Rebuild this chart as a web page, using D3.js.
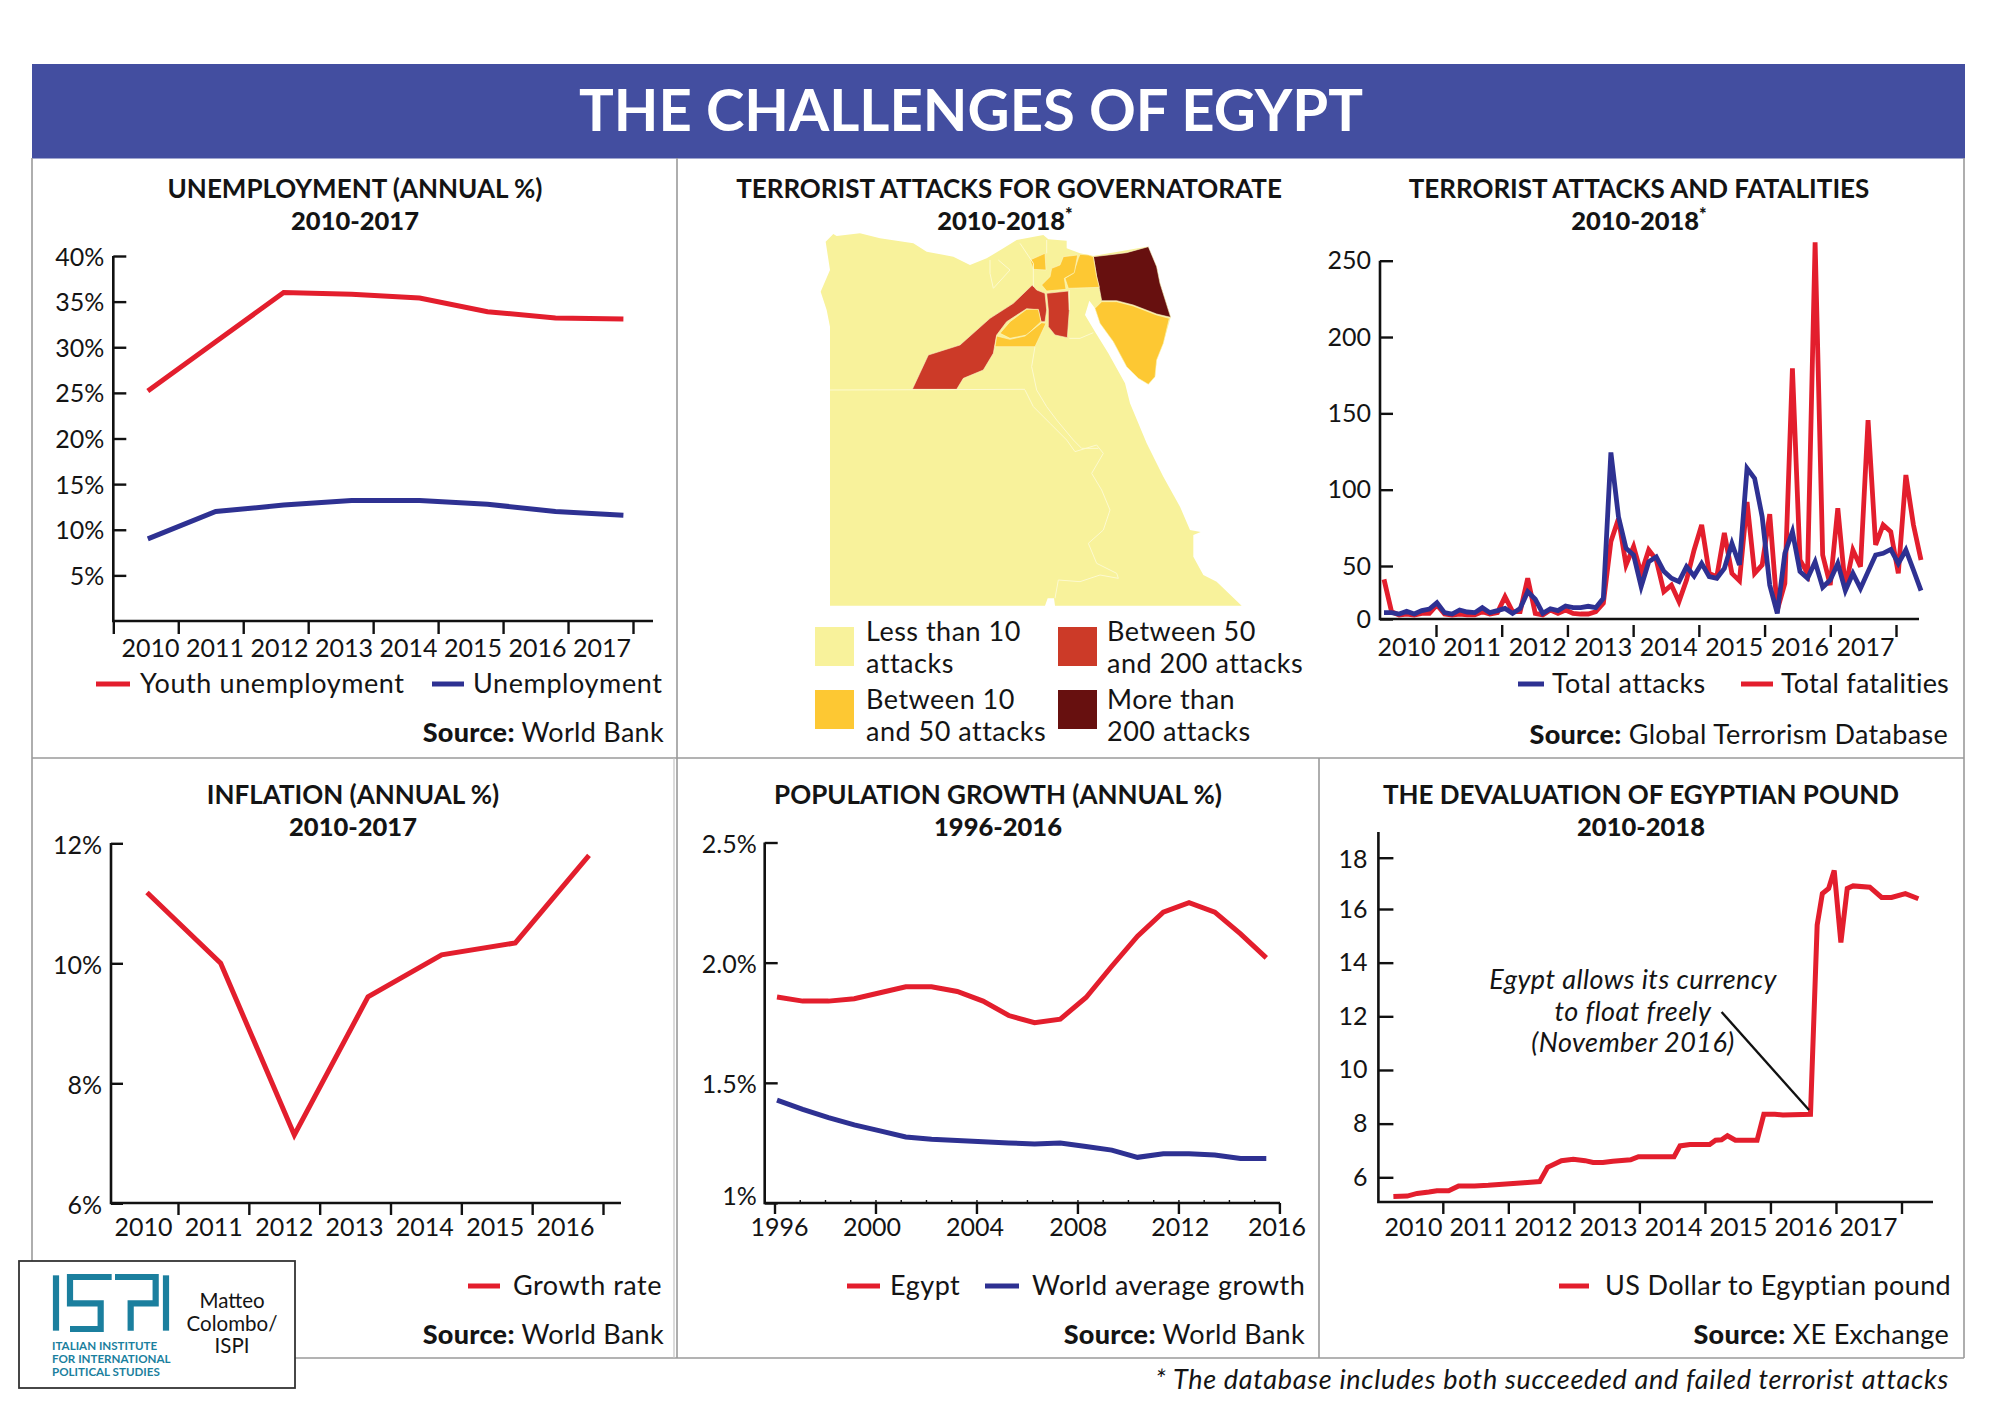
<!DOCTYPE html>
<html><head><meta charset="utf-8">
<script src="https://cdn.jsdelivr.net/npm/d3@7"></script>
<style>
html,body{margin:0;padding:0;background:#fff}
svg text{font-family:Lato,"Open Sans",sans-serif;fill:#141414}
.tick text{font-family:Lato,sans-serif;fill:#141414}
</style></head><body><svg id="c" width="2000" height="1414"></svg>
<script>
// ---------- DATA ----------
const years2010_2017=[2010,2011,2012,2013,2014,2015,2016,2017];
const years2010_2016=[2010,2011,2012,2013,2014,2015,2016];
const youthUnemployment=[25.2,30.6,36,35.8,35.4,33.9,33.2,33.1];
const unemployment=[9,12,12.7,13.2,13.2,12.8,12,11.6];
const unemploymentTicks=[5,10,15,20,25,30,35,40];
const inflation=[11.18,10,7.14,9.44,10.14,10.34,11.8];
const inflationTicks=[6,8,10,12];
const popYears=[1996,1997,1998,1999,2000,2001,2002,2003,2004,2005,2006,2007,2008,2009,2010,2011,2012,2013,2014,2015];
const popEgypt=[1.857,1.84,1.84,1.85,1.875,1.90,1.90,1.88,1.84,1.78,1.75,1.765,1.855,1.985,2.11,2.21,2.25,2.21,2.12,2.02];
const popWorld=[1.428,1.39,1.355,1.325,1.30,1.275,1.265,1.26,1.255,1.25,1.245,1.25,1.235,1.22,1.19,1.205,1.205,1.20,1.185,1.185];
const popTicks=[1,1.5,2,2.5];
const popXLabels=[1996,2000,2004,2008,2012,2016];
const totalAttacks=[6,6,4.7,7.2,4.7,7.9,9.4,15.4,6,4.7,8.5,6.6,6,10.7,6,7.9,10,5.3,10,25.8,18.6,5.3,9.7,7.9,12.3,10.7,10.7,12,10.7,19.5,124.4,82.3,61.6,57.2,30.5,52.8,56,45,38.4,35.2,49.4,40.6,51.7,40,38.4,47.8,64.8,50.7,114,107.4,82.3,32,5.3,58.3,72.5,44.7,38.4,52.8,29.9,36.8,51.7,26.7,43.1,28.9,44.7,57.2,58.3,60.9,51.7,60.5,46.2,26.7];
const totalFatalities=[37.4,6.9,3.8,4.7,3.8,5.3,5.3,13.2,4.7,3.8,4.7,3.8,3.8,6.9,4.7,6,21,6.9,6.9,38.4,5.3,3.8,8.5,5.3,8.5,5.3,4.7,4.7,6.9,14.8,66,81,50.7,62.7,43,60.5,54,25.8,32,16.4,36.8,60.5,76.9,43,40,71.6,43,36,92,43,50.7,84,8.5,33.6,179.5,54,43,262,57.2,32,87.8,29,60.5,49.4,145.6,63.8,76.9,72.5,43,109.6,76.9,54];
const attackTicks=[0,50,100,150,200,250];
const devalTime=[2010.246,2010.457,2010.608,2010.789,2010.91,2011.09,2011.241,2011.483,2011.694,2011.965,2012.237,2012.478,2012.599,2012.81,2012.991,2013.172,2013.293,2013.443,2013.594,2013.866,2013.986,2014.529,2014.62,2014.771,2015.072,2015.163,2015.253,2015.344,2015.465,2015.796,2015.899,2016.068,2016.189,2016.611,2016.713,2016.792,2016.888,2016.973,2017.075,2017.172,2017.262,2017.516,2017.697,2017.848,2018.059,2018.258];
const devalRate=[5.28,5.3,5.4,5.45,5.5,5.5,5.68,5.68,5.7,5.75,5.8,5.84,6.37,6.62,6.67,6.62,6.55,6.55,6.6,6.65,6.77,6.77,7.17,7.22,7.22,7.38,7.4,7.55,7.38,7.38,8.35,8.35,8.32,8.35,15.4,16.6,16.8,17.5,14.75,16.8,16.9,16.85,16.45,16.45,16.6,16.4];
const devalTicks=[6,8,10,12,14,16,18];
const mapLegend=[["Less than 10","attacks"],["Between 10","and 50 attacks"],["Between 50","and 200 attacks"],["More than","200 attacks"]];
// map shapes, traced on a 1500 x 1260 grid
const egyptShape=[[137,95],[160,72],[170,78],[240,70],[300,85],[400,100],[440,125],[520,140],[570,165],[620,145],[670,115],[710,90],[790,75],[805,88],[860,92],[860,115],[900,130],[940,138],[1100,110],[1130,170],[1140,220],[1172,322],[1150,400],[1130,450],[1125,500],[1105,523],[1075,505],[1040,470],[1000,395],[960,340],[945,295],[928,272],[915,315],[945,365],[985,430],[1035,520],[1050,580],[1075,640],[1100,700],[1150,800],[1200,890],[1230,960],[1262,966],[1240,975],[1240,1040],[1270,1095],[1310,1115],[1385,1187],[825,1187],[822,1165],[803,1165],[795,1187],[150,1187],[150,350],[140,300],[122,245],[150,180]];
const mapRegions=[
 {c:3,s:[[940,140],[985,135],[1040,128],[1105,110],[1130,170],[1140,220],[1172,322],[1130,312],[1060,285],[1010,272],[965,272],[958,235],[950,200]]},
 {c:1,s:[[965,275],[1010,275],[1060,288],[1130,315],[1168,325],[1150,400],[1130,450],[1125,500],[1105,523],[1075,505],[1040,470],[1000,395],[960,340],[945,295]]},
 {c:1,s:[[900,133],[925,135],[940,140],[950,200],[958,232],[865,235],[855,205],[880,190],[895,145]]},
 {c:1,s:[[850,140],[893,135],[883,188],[853,205],[858,238],[800,243],[785,225],[810,200],[815,175],[840,165]]},
 {c:1,s:[[750,150],[795,130],[798,180],[760,178]]},
 {c:2,s:[[757,225],[770,240],[795,250],[800,300],[795,335],[783,335],[775,300],[740,296],[680,335],[650,375],[640,430],[610,480],[550,505],[530,538],[397,538],[445,435],[540,405],[630,325],[700,280]]},
 {c:2,s:[[800,250],[865,243],[868,300],[862,383],[825,375],[805,350],[805,300]]},
 {c:1,s:[[660,370],[690,335],[740,298],[775,298],[783,335],[740,375],[690,385]]},
 {c:1,s:[[650,378],[690,388],[735,378],[785,338],[798,340],[765,410],[645,410]]}
];
const mapBorders=[
 [[150,540],[735,538]],
 [[735,540],[760,590],[810,640],[860,690],[885,725],[950,705],[970,730],[935,790],[965,840],[990,900],[970,960],[925,1000],[950,1060],[1010,1090],[1015,1105],[960,1095],[900,1115],[835,1110],[825,1165]],
 [[765,410],[755,470],[770,540],[800,590],[830,630],[880,690],[905,715],[955,715]],
 [[630,150],[630,190],[640,235],[690,180],[655,150]],
 [[720,100],[760,160],[760,230]],
 [[868,385],[900,385],[940,368]],
 [[868,240],[868,300]],
 [[800,90],[800,130]]
];
// ---------- COLOURS ----------
const RED="#e31e2d",BLUE="#2e3192",AXIS="#111";
const mapColors=["#f8f29b","#fdc833","#cc3a28","#67100f"];
const HEAD="#434ea0",RULE="#9a9a9a",TEAL="#1b7f9e";
const F=25;
const svg=d3.select("#c");
function txt(x,y,s,o={}){
 const t=svg.append("text").attr("x",x).attr("y",y).attr("text-anchor",o.a||"start")
  .attr("font-size",o.size||27).attr("font-weight",o.w||400).text(s);
 if(o.i)t.attr("font-style","italic");
 if(o.fill)t.style("fill",o.fill);
 t.attr("letter-spacing",o.ls!==undefined?o.ls:0.5);
 return t;
}
function rule(x1,y1,x2,y2,c=RULE,w=1.6){svg.append("line").attr("x1",x1).attr("y1",y1).attr("x2",x2).attr("y2",y2).attr("stroke",c).attr("stroke-width",w);}
function title(cx,y,a,b,star){
 txt(cx,y,a,{a:"middle",w:700,size:26,ls:0});
 const t=txt(cx,y+32,b,{a:"middle",w:900,size:25.5,ls:0});
 if(star)t.append("tspan").attr("dy",-9).attr("font-size",18).text("*");
}
function line(xs,ys,xf,yf,color,w=5){
 svg.append("path").datum(d3.range(xs.length)).attr("fill","none").attr("stroke",color).attr("stroke-width",w).attr("stroke-linejoin","miter")
  .attr("d",d3.line().x(i=>xf(xs[i])).y(i=>yf(ys[i])));
}
function yAxis(x,scale,ticks,fmt,len=13,pad=9,dy=0){
 const g=svg.append("g").attr("transform",`translate(${x},0)`).call(d3.axisLeft(scale).tickValues(ticks).tickFormat(fmt).tickSize(-len).tickSizeOuter(0).tickPadding(pad));
 g.select(".domain").remove();
 g.selectAll("line").attr("stroke",AXIS).attr("stroke-width",2.4);
 g.selectAll("text").attr("font-size",F).attr("font-family","Lato").attr("transform",`translate(0,${dy})`);
 return g;
}
function frame(x0,yTop,yBase,xEnd){
 svg.append("path").attr("fill","none").attr("stroke",AXIS).attr("stroke-width",2.6).attr("d",`M${x0},${yTop}V${yBase}H${xEnd}`);
}
function xTicks(scale,vals,yBase,off=0,len=13,w=2.4){
 const g=svg.append("g").attr("transform",`translate(0,${yBase})`).call(d3.axisBottom(scale).tickValues(vals).tickFormat("").tickSize(len).tickSizeOuter(0));
 g.select(".domain").remove();
 g.selectAll("line").attr("stroke",AXIS).attr("stroke-width",w).attr("y1",off).attr("y2",off+len);
}
function xLabels(scale,vals,y){
 const g=svg.append("g").attr("transform",`translate(0,${y})`).call(d3.axisBottom(scale).tickValues(vals).tickSize(0).tickPadding(0).tickFormat(d3.format("d")));
 g.select(".domain").remove();
 g.selectAll("text").attr("font-size",F).attr("font-family","Lato").attr("dy",0);
}
function legendLine(x1,x2,y,c){svg.append("line").attr("x1",x1).attr("x2",x2).attr("y1",y).attr("y2",y).attr("stroke",c).attr("stroke-width",5);}
function source(xr,y,name){
 const t=txt(xr,y,"",{a:"end",ls:0.3});
 t.append("tspan").attr("font-weight",900).text("Source:");
 t.append("tspan").text(" "+name);
}
// ---------- FRAME ----------
svg.append("rect").attr("x",32).attr("y",64).attr("width",1933).attr("height",94.5).attr("fill",HEAD);
txt(971,131,"THE CHALLENGES OF EGYPT",{a:"middle",w:700,size:58,ls:0,fill:"#fff"});
rule(32,158,32,1262);rule(1964,158,1964,1358);rule(677,158,677,1358);rule(1319,758,1319,1358);
rule(32,758,1964,758);rule(295,1358,1964,1358);rule(674,758,674,1358,"#c4c4c4",1.2);
// ---------- PANEL 1 ----------
title(355,198,"UNEMPLOYMENT (ANNUAL %)","2010-2017");
{
 const y=d3.scaleLinear().domain([0,40]).range([621,256]);
 const xData=d3.scaleLinear().domain([2010,2017]).range([147.8,623.4]);
 const xTick=d3.scaleLinear().domain([2010,2018]).range([113.3,633]);
 const xLab=d3.scalePoint().domain(years2010_2017).range([150,601.5]);
 frame(113.3,256,621,653);
 yAxis(113.3,y,unemploymentTicks,d=>d+"%",13,9,1);
 xTicks(xTick,d3.range(2010,2019),621,0,13);
 xLabels(xLab,years2010_2017,657);
 line(years2010_2017,youthUnemployment,xData,y,RED);
 line(years2010_2017,unemployment,xData,y,BLUE);
}
legendLine(96,130,684,RED);txt(140,693,"Youth unemployment",{ls:0.6});
legendLine(432,464,684,BLUE);txt(473,693,"Unemployment",{ls:0.6});
source(664,741.5,"World Bank");
// ---------- PANEL 2 MAP ----------
title(1009,198,"TERRORIST ATTACKS FOR GOVERNATORATE","2010-2018",true);
{
 svg.selectAll("text").filter(function(){return this.textContent.startsWith("2010-2018");}).attr("x",1005);
 const mx=d3.scaleLinear().domain([0,1500]).range([780,1280]);
 const my=d3.scaleLinear().domain([0,1260]).range([210,630]);
 const p=d3.line().x(d=>mx(d[0])).y(d=>my(d[1]));
 svg.append("path").attr("d",p(egyptShape)+"Z").attr("fill",mapColors[0]);
 svg.selectAll(null).data(mapRegions).enter().append("path").attr("d",d=>p(d.s)+"Z").attr("fill",d=>mapColors[d.c]).attr("stroke","#fbf6c8").attr("stroke-width",0.6);
 svg.selectAll(null).data(mapBorders).enter().append("path").attr("d",d=>p(d)).attr("fill","none").attr("stroke","#fdfad0").attr("stroke-width",1);
 const col=d3.scaleOrdinal().domain([0,1,2,3]).range([815,815,1058,1058]);
 const row=d3.scaleOrdinal().domain([0,1,2,3]).range([627,690,627,690]);
 mapLegend.forEach((l,i)=>{
  svg.append("rect").attr("x",col(i)).attr("y",row(i)).attr("width",39).attr("height",39).attr("fill",mapColors[i]);
  txt(col(i)+(i<2?51:49),row(i)+14+(i%2?5:0),l[0]);
  txt(col(i)+(i<2?51:49),row(i)+46+(i%2?5:0),l[1]);
 });
}
// ---------- PANEL 3 ----------
title(1639,198,"TERRORIST ATTACKS AND FATALITIES","2010-2018",true);
{
 const y=d3.scaleLinear().domain([0,50,250]).range([619,566,260.7]);
 const x=d3.scaleLinear().domain([0,71]).range([1384,1921]);
 const xTick=d3.scaleLinear().domain([2011,2018]).range([1436,1896]);
 const xLab=d3.scalePoint().domain(years2010_2017).range([1406,1865]);
 const idx=d3.range(totalAttacks.length);
 frame(1380,260.7,619,1919);
 yAxis(1380,y,attackTicks,d=>d,13,9);
 xTicks(xTick,d3.range(2011,2019),619,6,12);
 xLabels(xLab,years2010_2017,656);
 line(idx,totalFatalities,x,y,RED,4.8);
 line(idx,totalAttacks,x,y,BLUE,4.8);
}
legendLine(1518,1544,684,BLUE);txt(1552,693,"Total attacks",{ls:0.4});
legendLine(1741,1773,684,RED);txt(1781,693,"Total fatalities",{ls:0.2});
source(1948,744,"Global Terrorism Database");
// ---------- PANEL 4 ----------
title(353,804,"INFLATION (ANNUAL %)","2010-2017");
{
 const y=d3.scaleLinear().domain([6,12]).range([1203.3,843.3]);
 const xData=d3.scaleLinear().domain([2010,2016]).range([147,589]);
 const xTick=d3.scaleLinear().domain([2010,2016]).range([178,603]);
 const xLab=d3.scalePoint().domain(years2010_2016).range([143,565]);
 frame(111,843,1203,621);
 yAxis(111,y,inflationTicks,d=>d+"%",12,9,2);
 xTicks(xTick,years2010_2016,1203,0,12);
 xLabels(xLab,years2010_2016,1236);
 line(years2010_2016,inflation,xData,y,RED);
}
legendLine(468,500,1286,RED);txt(513,1295,"Growth rate");
source(664,1344,"World Bank");
// ---------- PANEL 5 ----------
title(998,804,"POPULATION GROWTH (ANNUAL %)","1996-2016");
{
 const y=d3.scaleLinear().domain([1,2.5]).range([1203,842.5]);
 const xData=d3.scaleLinear().domain([1996,2015]).range([777,1266.3]);
 const xTick=d3.scaleLinear().domain([1996,2016]).range([774.5,1279.4]);
 const xLab=d3.scaleLinear().domain(popXLabels).range([779,871.6,974.5,1077.8,1179.8,1276.5]);
 frame(764.7,842.5,1203,1280);
 const g=yAxis(764.7,y,popTicks,d=>d===1?"1%":d.toFixed(1)+"%",13,8,1.5);
 g.selectAll(".tick").filter(d=>d===1).select("text").attr("transform","translate(0,-7)");
 xTicks(xTick,popXLabels,1203,0,11);
 const minor=svg.append("g").attr("transform","translate(0,1203)").call(d3.axisTop(xTick).tickValues(d3.range(1997,2016)).tickFormat("").tickSize(3).tickSizeOuter(0));
 minor.select(".domain").remove();minor.selectAll("line").attr("stroke",AXIS).attr("stroke-width",1.4);
 xLabels(xLab,popXLabels,1236);
 line(popYears,popEgypt,xData,y,RED);
 line(popYears,popWorld,xData,y,BLUE);
}
legendLine(847,880,1286,RED);txt(890,1295,"Egypt");
legendLine(985,1019,1286,BLUE);txt(1032,1295,"World average growth");
source(1305,1344,"World Bank");
// ---------- PANEL 6 ----------
title(1641,804,"THE DEVALUATION OF EGYPTIAN POUND","2010-2018");
{
 const y=d3.scaleLinear().domain([6,16,18]).range([1177.3,909,857.7]);
 const x=d3.scaleLinear().domain([2011,2018]).range([1442.8,1901.5]);
 const xLab=d3.scalePoint().domain(years2010_2017).range([1413,1868]);
 frame(1378.4,832,1202,1933);
 const g=yAxis(1378.4,y,devalTicks,d=>d,15,11);
 g.selectAll(".tick").filter(d=>d===18).select("text").attr("transform","translate(0,2)");
 xTicks(x,d3.range(2011,2019),1202,0,12);
 xLabels(xLab,years2010_2017,1236);
 line(devalTime,devalRate,x,y,RED);
}
["Egypt allows its currency","to float freely","(November 2016)"].forEach((s,i)=>txt(1633,[989,1021,1052][i],s,{a:"middle",i:true,ls:0.45}));
rule(1721.6,1012,1809,1110,"#111",2.4);
legendLine(1559,1589,1286,RED);txt(1605,1295,"US Dollar to Egyptian pound",{ls:0.35});
source(1949,1344,"XE Exchange");
// ---------- FOOTNOTE ----------
txt(1949,1389,"* The database includes both succeeded and failed terrorist attacks",{a:"end",i:true,ls:0.7});
// ---------- LOGO ----------
svg.append("rect").attr("x",19).attr("y",1261).attr("width",276).attr("height",127).attr("fill","#fff").attr("stroke","#333").attr("stroke-width",1.8);
const logo=svg.append("g").attr("fill","none").attr("stroke",TEAL).attr("stroke-width",6.2);
const lx=d3.scaleLinear().domain([0,960]).range([0,320]);
const ly=d3.scaleLinear().domain([0,522]).range([1240,1414]);
[[[168,106],[168,272]],[[335,111],[210,111],[210,190],[302,190],[302,267],[210,267]],[[392,272],[392,190],[467,190],[467,111],[345,111]],[[498,106],[498,272]]].forEach(s=>{
 logo.append("path").attr("d",d3.line().x(d=>lx(d[0])).y(d=>ly(d[1]))(s));
});
["ITALIAN INSTITUTE","FOR INTERNATIONAL","POLITICAL STUDIES"].forEach((s,i)=>txt(52,[1350,1363,1376][i],s,{size:11.6,w:700,fill:TEAL,ls:0}));
["Matteo","Colombo/","ISPI"].forEach((s,i)=>txt(232,[1308,1331,1353][i],s,{a:"middle",size:20.5,ls:0}));
</script></body></html>
